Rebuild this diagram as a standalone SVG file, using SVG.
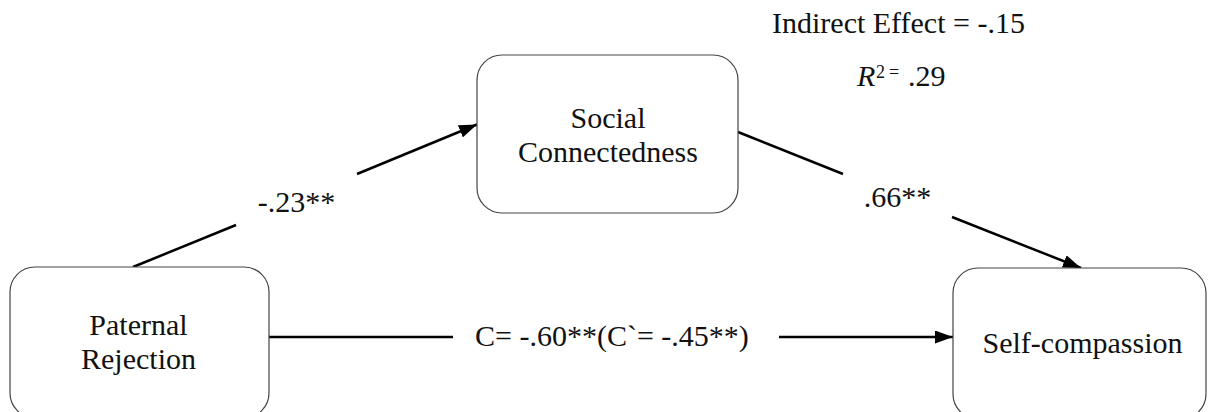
<svg xmlns="http://www.w3.org/2000/svg" width="1208" height="412" viewBox="0 0 1208 412">
<style>
  .box{fill:#fff;stroke:#444;stroke-width:1.2}
  text{font-family:'Liberation Serif','Times New Roman',serif;font-size:30px;fill:#111;text-anchor:middle}
  .ln{stroke:#000;stroke-width:2.5;fill:none}
</style>
<defs>
  <marker id="ah" markerUnits="userSpaceOnUse" viewBox="0 0 18 13" refX="18" refY="6.5" markerWidth="18" markerHeight="13" orient="auto">
    <path d="M0,0 L18,6.5 L0,13 z" fill="#000"/>
  </marker>
</defs>
<rect width="1208" height="412" fill="#fff"/>
<g id="connectors">
  <line class="ln" x1="133" y1="267" x2="236" y2="225"/>
  <line class="ln" x1="357" y1="174" x2="477" y2="124.5" marker-end="url(#ah)"/>
  <line class="ln" x1="738" y1="132" x2="843" y2="174"/>
  <line class="ln" x1="952" y1="217" x2="1081" y2="268" marker-end="url(#ah)"/>
  <line class="ln" x1="269" y1="337" x2="453" y2="337"/>
  <line class="ln" x1="779" y1="337" x2="953" y2="337" marker-end="url(#ah)"/>
  <text x="296.5" y="212">-.23**</text>
  <text x="897.5" y="207">.66**</text>
  <text x="475" y="346" style="text-anchor:start">C= -.60**(C`= -.45**)</text>
</g>
<g id="paternal">
  <rect class="box" x="10" y="267" width="259" height="151" rx="25"/>
  <text x="138.5" y="335">Paternal</text>
  <text x="138.5" y="369">Rejection</text>
</g>
<g id="social">
  <rect class="box" x="477" y="55" width="261" height="158" rx="25"/>
  <text x="608" y="128">Social</text>
  <text x="608" y="162">Connectedness</text>
</g>
<g id="selfcomp">
  <rect class="box" x="953" y="268" width="253" height="151" rx="25"/>
  <text x="1082.5" y="353">Self-compassion</text>
</g>
<g id="stats">
  <text x="772" y="33" style="text-anchor:start">Indirect Effect = -.15</text>
  <text x="857" y="86" style="text-anchor:start" font-style="italic">R</text>
  <text x="876" y="78" style="text-anchor:start;font-size:18px">2</text>
  <text x="889" y="78" style="text-anchor:start;font-size:18px">=</text>
  <text x="908" y="86" style="text-anchor:start">.29</text>
</g>
</svg>
